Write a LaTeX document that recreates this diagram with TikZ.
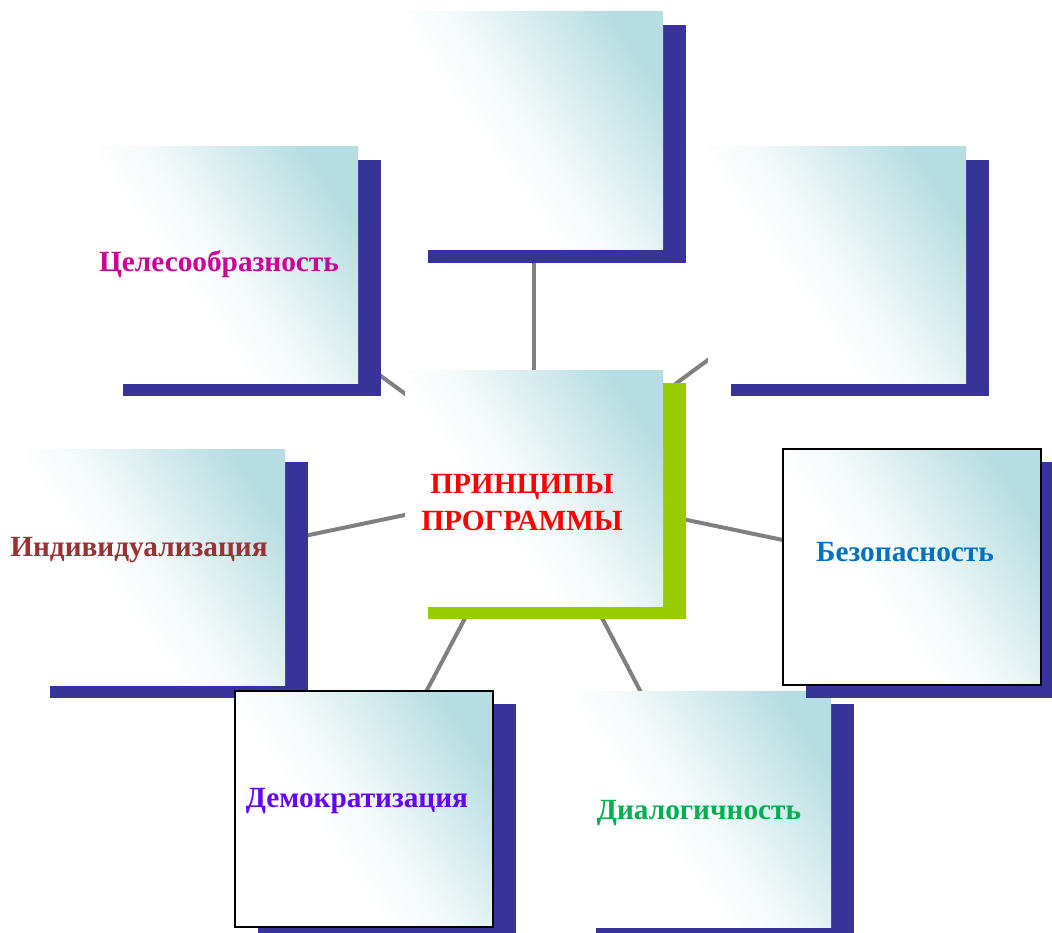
\documentclass[tikz,border=0pt]{standalone}
\usepackage{fontspec}
\setmainfont{Liberation Serif}
\usetikzlibrary{shadows}
\definecolor{shblue}{HTML}{373399}
\definecolor{shgreen}{HTML}{99CC00}
\definecolor{tealbox}{HTML}{B6DDE1}
\definecolor{linegray}{HTML}{808080}
\definecolor{cMag}{HTML}{CC0099}
\definecolor{cBrown}{HTML}{993333}
\definecolor{cBlue}{HTML}{0070C0}
\definecolor{cPurple}{HTML}{6600FF}
\definecolor{cGreen}{HTML}{00B050}
\definecolor{cRed}{HTML}{FF0000}
\pgfdeclareverticalshading{boxshade}{100bp}{color(0bp)=(white); color(40bp)=(white); color(50bp)=(white!85!tealbox); color(76bp)=(tealbox); color(100bp)=(tealbox)}
\pgfdeclarelayer{bg}
\pgfsetlayers{bg,main}
\tikzset{
  pbox/.style={rectangle, inner sep=0pt, minimum width=258pt, minimum height=236pt,
    shade, shading=boxshade, shading angle=-55,
    general shadow={fill=#1, shadow xshift=23pt, shadow yshift=-13pt}},
  framed/.style={draw=black, line width=1.5pt},
  ptext/.style={font=\bfseries\fontsize{29.3}{37}\selectfont, align=center, inner sep=0pt},
  conn/.style={draw=linegray, line width=4pt}
}
\begin{document}
\begin{tikzpicture}[x=1pt,y=-1pt]
\useasboundingbox (0,0) rectangle (1052,933);
\node[pbox=shblue, minimum height=238pt] (top) at (534,131) {};
\node[pbox=shblue] (tl) at (229,265) {};
\node[pbox=shblue] (tr) at (837,265) {};
\node[pbox=shgreen] (c) at (534,488) {};
\node[pbox=shblue] (b) at (702,809) {};
\node[pbox=shblue] (l) at (156,567) {};
\node[pbox=shblue, framed] (bl) at (364,809) {};
\node[pbox=shblue, framed] (r) at (912,567) {};
\begin{pgfonlayer}{bg}
\foreach \n in {top,tl,tr,b,l,bl,r} \draw[conn] (c.center) -- (\n.center);
\end{pgfonlayer}
\node[ptext, text=cMag] (ttl) at (219,264) {Целесообразность};
\node[ptext, text=cBrown] (tl2) at (139,550) {Индивидуализация};
\node[ptext, text=cRed] (tc) at (522,503) {ПРИНЦИПЫ\\ПРОГРАММЫ};
\node[ptext, text=cBlue] (tr2) at (905,552) {Безопасность};
\node[ptext, text=cPurple] (tbl) at (357,801) {Демократизация};
\node[ptext, text=cGreen] (tb) at (699,813) {Диалогичность};
\end{tikzpicture}
\end{document}
